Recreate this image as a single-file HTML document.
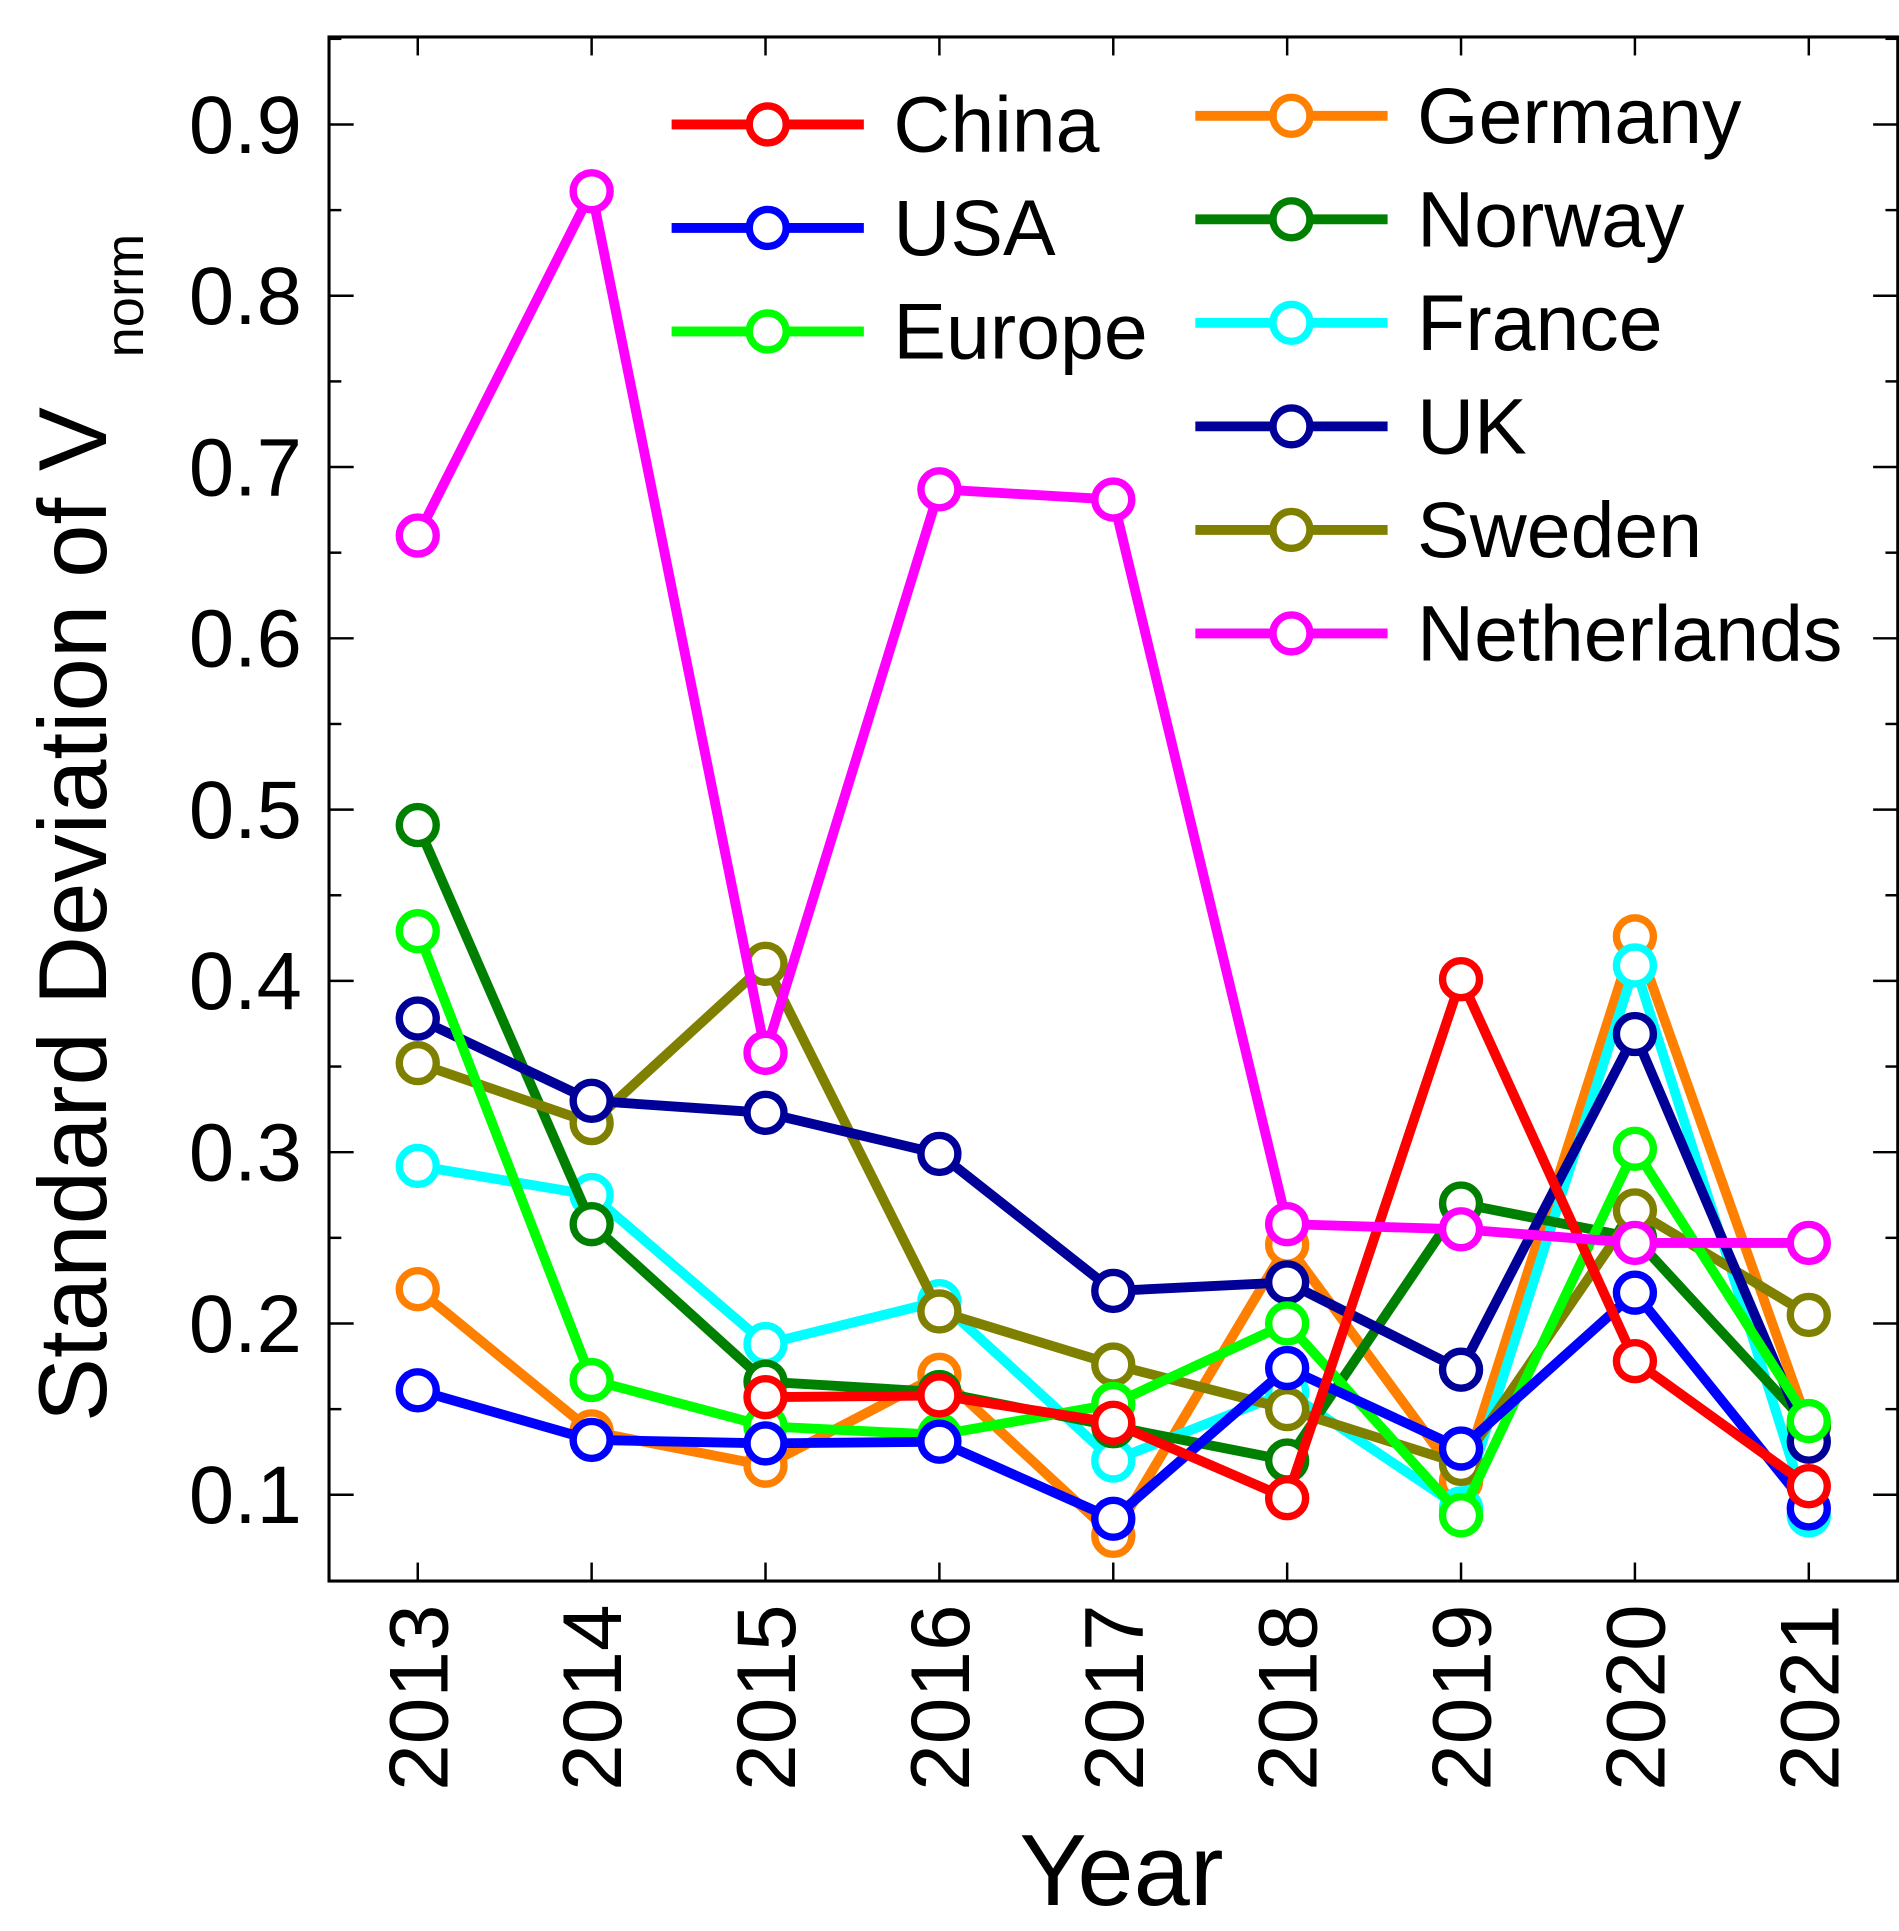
<!DOCTYPE html>
<html><head><meta charset="utf-8"><style>html,body{margin:0;padding:0;background:#fff}svg{display:block}</style></head>
<body>
<svg id="chart" width="1899" height="1931" viewBox="0 0 1541 1567" preserveAspectRatio="none" xmlns="http://www.w3.org/2000/svg" font-family="Liberation Sans, Arial, sans-serif">
<rect x="267" y="30" width="1273" height="1253" fill="none" stroke="#000" stroke-width="2.5"/>
<g id="ticks"></g>
<g id="series"></g>
<g id="legend"></g>
<text x="0" y="0" font-size="78" transform="translate(86,1154) rotate(-90)">Standard Deviation of V</text>
<text x="0" y="0" font-size="44" transform="translate(116,290) rotate(-90)">norm</text>
<text x="910" y="1546" font-size="82" text-anchor="middle">Year</text>
</svg>
<script>
const years = [2013,2014,2015,2016,2017,2018,2019,2020,2021];
const yTicks = [0.1,0.2,0.3,0.4,0.5,0.6,0.7,0.8,0.9];
const yTickLabels = ["0.1","0.2","0.3","0.4","0.5","0.6","0.7","0.8","0.9"];
const seriesNames = ["China","USA","Europe","Germany","Norway","France","UK","Sweden","Netherlands"];
const china = [null,null,0.157,0.158,0.142,0.098,0.401,0.178,0.105];
const usa = [0.161,0.132,0.130,0.131,0.086,0.174,0.127,0.218,0.092];
const europe = [0.429,0.167,0.140,0.135,0.153,0.200,0.088,0.302,0.143];
const germany = [0.220,0.137,0.117,0.170,0.076,0.246,0.108,0.426,0.140];
const norway = [0.491,0.258,0.166,0.160,0.140,0.120,0.270,0.250,0.140];
const france = [0.292,0.275,0.188,0.213,0.120,0.160,0.092,0.409,0.088];
const uk = [0.378,0.330,0.323,0.299,0.219,0.224,0.173,0.369,0.131];
const sweden = [0.352,0.317,0.410,0.207,0.176,0.150,0.118,0.266,0.205];
const netherlands = [0.660,0.861,0.358,0.687,0.681,0.258,0.255,0.247,0.247];

const NS="http://www.w3.org/2000/svg";
const xS = y => 339 + (y-2013)*141.1;
const yS = v => 1213 - (v-0.1)*1390;
function mk(tag, attrs, parent){const e=document.createElementNS(NS,tag);for(const k in attrs)e.setAttribute(k,attrs[k]);parent.appendChild(e);return e;}
const ticks=document.getElementById('ticks');
for(let i=0;i<yTicks.length;i++){
  const y=yS(yTicks[i]);
  const l1=mk('line',{x1:267,x2:287,y1:y,y2:y,stroke:'#000','stroke-width':2},ticks);
  
  
  mk('line',{x1:1520,x2:1540,y1:y,y2:y,stroke:'#000','stroke-width':2},ticks);
  const t=mk('text',{x:245,y:y+23,'font-size':66,'text-anchor':'end'},ticks);
  t.textContent=yTickLabels[i];
  
  
}
for(let v=0.15;v<0.95;v+=0.1){const y=yS(v);
  mk('line',{x1:267,x2:277,y1:y,y2:y,stroke:'#000','stroke-width':2},ticks);
  mk('line',{x1:1530,x2:1540,y1:y,y2:y,stroke:'#000','stroke-width':2},ticks);}
for(const yr of years){const x=xS(yr);
  mk('line',{x1:x,x2:x,y1:1283,y2:1268,stroke:'#000','stroke-width':2},ticks);
  mk('line',{x1:x,x2:x,y1:30,y2:45,stroke:'#000','stroke-width':2},ticks);
  const t=mk('text',{'font-size':68,'text-anchor':'end',transform:`translate(${x+24},1302) rotate(-90)`},ticks);
  t.textContent=String(yr);
  
  
}
const colors={China:'#ff0000',USA:'#0000ff',Europe:'#00ff00',Germany:'#ff8000',Norway:'#008000',France:'#00ffff',UK:'#000099',Sweden:'#808000',Netherlands:'#ff00ff'};
const dataMap={China:china,USA:usa,Europe:europe,Germany:germany,Norway:norway,France:france,UK:uk,Sweden:sweden,Netherlands:netherlands};
const order=["Germany","France","Norway","Sweden","UK","Europe","USA","China","Netherlands"];
const sg=document.getElementById('series');
for(const name of order){
  const vals=dataMap[name];const c=colors[name];
  const g=mk('g',{},sg);
  
  
  const pts=[];vals.forEach((v,i)=>{if(v!==null)pts.push([xS(years[i]),yS(v)]);});
  const pl=mk('polyline',{points:pts.map(p=>p.join(',')).join(' '),fill:'none',stroke:c,'stroke-width':8,'stroke-linejoin':'round'},g);
  
  
  for(const p of pts){
    const m=mk('circle',{cx:p[0],cy:p[1],r:15,fill:'#fff',stroke:c,'stroke-width':6},g);
    
    
  }
}
const lg=document.getElementById('legend');
const legPos=[[545,101],[545,185],[545,269],[970,94],[970,178],[970,262],[970,346],[970,430],[970,514]];
seriesNames.forEach((name,i)=>{
  const [x,y]=legPos[i];const c=colors[name];
  const g=mk('g',{},lg);
  
  
  mk('line',{x1:x,x2:x+156,y1:y,y2:y,stroke:c,'stroke-width':8},g);
  mk('circle',{cx:x+78,cy:y,r:15,fill:'#fff',stroke:c,'stroke-width':6},g);
  const t=mk('text',{x:x+180,y:y+22,'font-size':64},g);
  t.textContent=name;
});
</script>
</body></html>
